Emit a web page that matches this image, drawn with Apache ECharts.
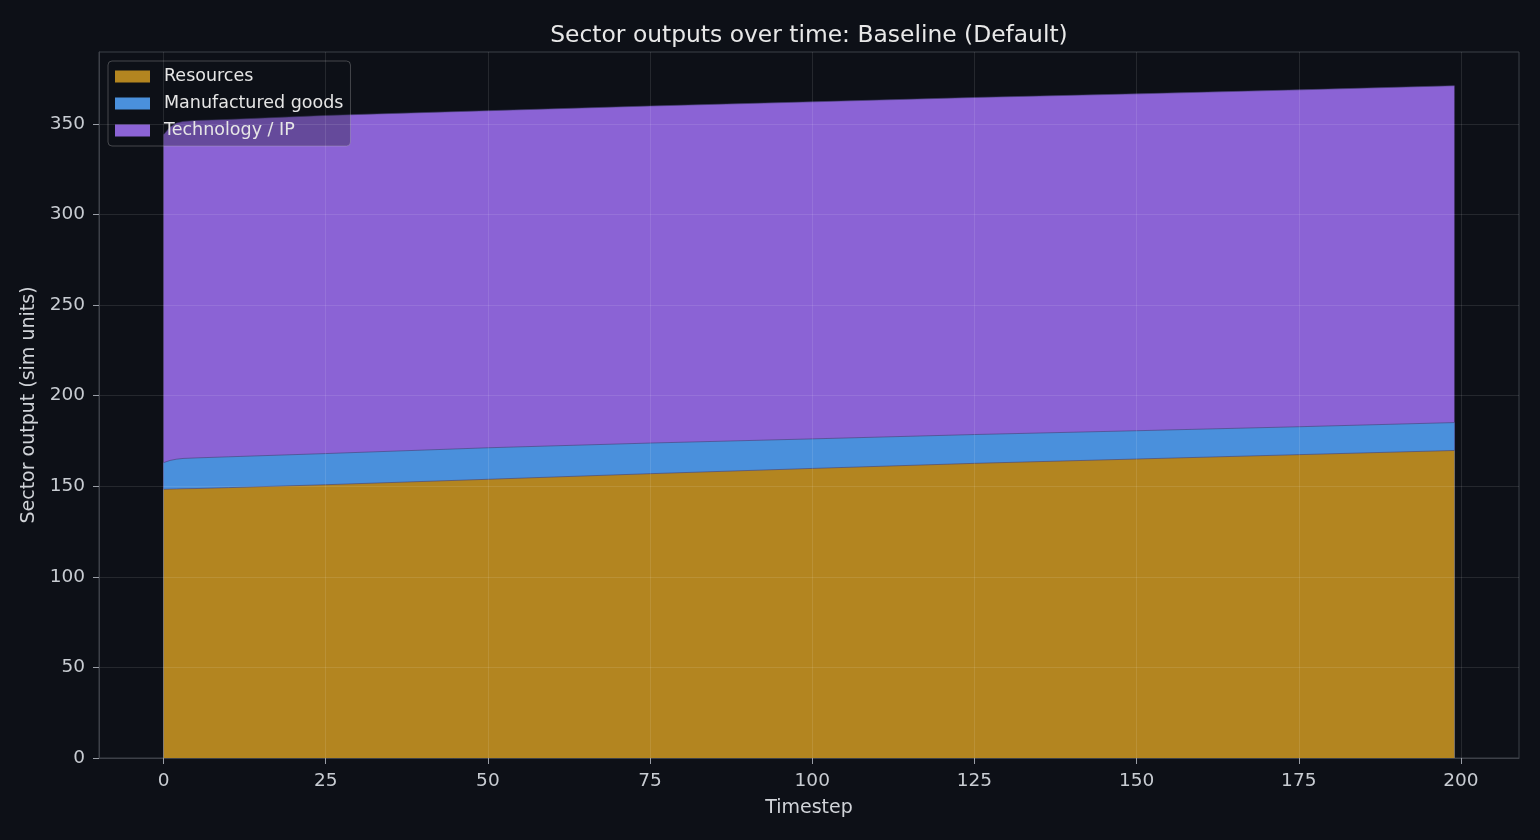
<!DOCTYPE html>
<html>
<head>
<meta charset="utf-8">
<title>Sector outputs over time</title>
<script src="https://cdn.jsdelivr.net/npm/echarts@6/dist/echarts.min.js"></script>
<style>
  html, body { margin: 0; padding: 0; background: #0d1017; }
  #chart { width: 1540px; height: 840px; }
</style>
</head>
<body>
<div id="chart"></div>
<script>
// values
var steps = [0, 1, 2, 3, 5, 10, 25, 50, 75, 100, 125, 150, 175, 199];
var resources = [148.3, 148.4, 148.5, 148.6, 148.7, 149.2, 150.8, 153.8, 156.9, 159.8, 162.6, 165.0, 167.4, 169.7];
var manufactured = [14.7, 15.8, 16.4, 16.7, 16.9, 17.0, 17.2, 17.4, 16.9, 16.3, 15.9, 15.6, 15.4, 15.4];
var technology = [181.0, 184.0, 185.5, 186.0, 186.2, 186.2, 186.6, 186.0, 186.0, 186.0, 186.0, 185.9, 185.9, 185.9];
var xTicks = [0, 25, 50, 75, 100, 125, 150, 175, 200];
var yTicks = [0, 50, 100, 150, 200, 250, 300, 350];

// stack by hand: each band is drawn as the running total down to zero,
// top band first so the lower ones cover it
function stacked(layers) {
    return steps.map(function (t, i) {
        var sum = 0;
        layers.forEach(function (arr) { sum += arr[i]; });
        return [t, sum];
    });
}

var font = "'DejaVu Sans', sans-serif";
var gridLine = { show: true, lineStyle: { color: 'rgba(255,255,255,0.1)', width: 1 } };
var edge = { width: 0.8, color: 'rgba(70,64,115,0.75)' };

var myChart = echarts.init(document.getElementById('chart'));

var option = {
    backgroundColor: '#0d1017',
    animation: false,
    title: {
        text: 'Sector outputs over time: Baseline (Default)',
        left: 804,
        textAlign: 'center',
        top: 19,
        textStyle: { color: '#e8e8e8', fontSize: 23.4, fontWeight: 'normal', fontFamily: font }
    },
    grid: {
        left: 99, right: 21, top: 52, bottom: 82,
        show: true, borderColor: '#3d4048', borderWidth: 1, backgroundColor: 'transparent'
    },
    legend: {
        orient: 'vertical',
        left: 108,
        top: 61,
        padding: [5, 7, 5, 7],
        itemWidth: 35,
        itemHeight: 12,
        itemGap: 6,
        icon: 'rect',
        backgroundColor: 'rgba(13,16,23,0.3)',
        borderColor: 'rgba(200,200,200,0.3)',
        borderWidth: 1,
        borderRadius: 4,
        textStyle: { color: '#e6e6e6', fontSize: 17.5, lineHeight: 21, fontFamily: font, padding: [0, 0, 0, 9] },
        data: ['Resources', 'Manufactured goods', 'Technology / IP']
    },
    xAxis: {
        type: 'value',
        min: -9.95,
        max: 208.95,
        z: 5,
        name: 'Timestep',
        nameLocation: 'middle',
        nameGap: 41,
        nameTextStyle: { color: '#d0d3d8', fontSize: 19, fontFamily: font },
        axisLine: { show: true, onZero: false, lineStyle: { color: '#3d4048' } },
        axisTick: { show: true, length: 6, customValues: xTicks, lineStyle: { color: '#9a9ea6' } },
        axisLabel: { customValues: xTicks, color: '#c8ccd2', fontSize: 18.5, fontFamily: font, margin: 14 },
        splitLine: gridLine
    },
    yAxis: {
        type: 'value',
        min: 0,
        max: 389.6,
        z: 5,
        name: 'Sector output (sim units)',
        nameLocation: 'middle',
        nameGap: 58,
        nameTextStyle: { color: '#d0d3d8', fontSize: 19, fontFamily: font },
        axisLine: { show: true, onZero: false, lineStyle: { color: '#3d4048' } },
        axisTick: { show: true, length: 6, customValues: yTicks, lineStyle: { color: '#9a9ea6' } },
        axisLabel: { customValues: yTicks, color: '#c8ccd2', fontSize: 18.5, fontFamily: font, margin: 14 },
        splitLine: gridLine
    },
    series: [
        {
            name: 'Technology / IP',
            type: 'line',
            showSymbol: false,
            itemStyle: { color: '#8b63d5' },
            lineStyle: edge,
            areaStyle: { color: '#8b63d5', opacity: 1 },
            data: stacked([resources, manufactured, technology])
        },
        {
            name: 'Manufactured goods',
            type: 'line',
            showSymbol: false,
            itemStyle: { color: '#4a90dc' },
            lineStyle: edge,
            areaStyle: { color: '#4a90dc', opacity: 1 },
            data: stacked([resources, manufactured])
        },
        {
            name: 'Resources',
            type: 'line',
            showSymbol: false,
            itemStyle: { color: '#b38520' },
            lineStyle: edge,
            areaStyle: { color: '#b38520', opacity: 1 },
            data: stacked([resources])
        }
    ]
};

myChart.setOption(option);
</script>
</body>
</html>
